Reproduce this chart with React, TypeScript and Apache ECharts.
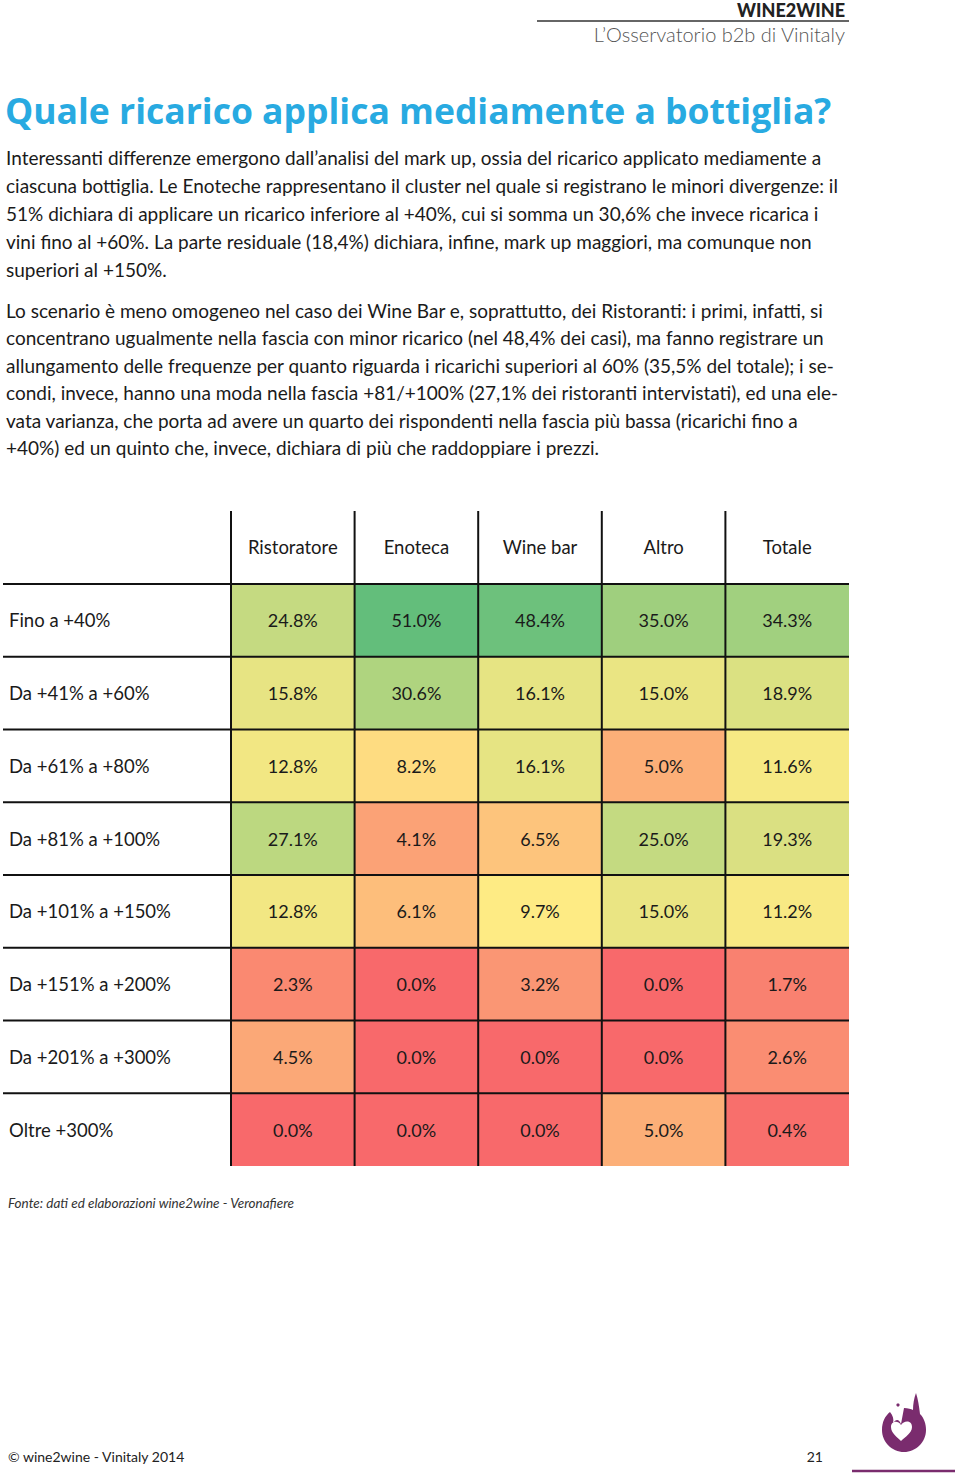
import React, { useEffect, useRef } from "react";
import * as echarts from "echarts";

const columns = ["Ristoratore", "Enoteca", "Wine bar", "Altro", "Totale"];
const rows = [
  "Fino a +40%",
  "Da +41% a +60%",
  "Da +61% a +80%",
  "Da +81% a +100%",
  "Da +101% a +150%",
  "Da +151% a +200%",
  "Da +201% a +300%",
  "Oltre +300%",
];
const ristoratore = [24.8, 15.8, 12.8, 27.1, 12.8, 2.3, 4.5, 0.0];
const enoteca = [51.0, 30.6, 8.2, 4.1, 6.1, 0.0, 0.0, 0.0];
const wineBar = [48.4, 16.1, 16.1, 6.5, 9.7, 3.2, 0.0, 0.0];
const altro = [35.0, 15.0, 5.0, 25.0, 15.0, 0.0, 0.0, 5.0];
const totale = [34.3, 18.9, 11.6, 19.3, 11.2, 1.7, 2.6, 0.4];
const seriesValues = [ristoratore, enoteca, wineBar, altro, totale];

const titleText = "Quale ricarico applica mediamente a bottiglia?";
const paragraph1 = [
  "Interessanti differenze emergono dall’analisi del mark up, ossia del ricarico applicato mediamente a",
  "ciascuna bottiglia. Le Enoteche rappresentano il cluster nel quale si registrano le minori divergenze: il",
  "51% dichiara di applicare un ricarico inferiore al +40%, cui si somma un 30,6% che invece ricarica i",
  "vini fino al +60%. La parte residuale (18,4%) dichiara, infine, mark up maggiori, ma comunque non",
  "superiori al +150%.",
];
const paragraph2 = [
  "Lo scenario è meno omogeneo nel caso dei Wine Bar e, soprattutto, dei Ristoranti: i primi, infatti, si",
  "concentrano ugualmente nella fascia con minor ricarico (nel 48,4% dei casi), ma fanno registrare un",
  "allungamento delle frequenze per quanto riguarda i ricarichi superiori al 60% (35,5% del totale); i se-",
  "condi, invece, hanno una moda nella fascia +81/+100% (27,1% dei ristoranti intervistati), ed una ele-",
  "vata varianza, che porta ad avere un quarto dei rispondenti nella fascia più bassa (ricarichi fino a",
  "+40%) ed un quinto che, invece, dichiara di più che raddoppiare i prezzi.",
];
const sourceText = "Fonte: dati ed elaborazioni wine2wine - Veronafiere";
const footerText = "© wine2wine - Vinitaly 2014";
const pageNumber = "21";

const FONT = "Lato";
const TITLE_FONT = "Open Sans";
const RED = [248, 105, 107];
const YELLOW = [255, 235, 132];
const GREEN = [99, 190, 123];
const MID = 9.3;

function mix(a: number[], b: number[], t: number) {
  const c = a.map((v, i) => Math.round(v + (b[i] - v) * t));
  return `rgb(${c[0]},${c[1]},${c[2]})`;
}

const allValues = seriesValues.flat();
const vMin = Math.min(...allValues);
const vMax = Math.max(...allValues);

function cellColor(v: number) {
  if (v <= MID) return mix(RED, YELLOW, (v - vMin) / (MID - vMin));
  return mix(YELLOW, GREEN, (v - MID) / (vMax - MID));
}

const LOGO_D =
  "M 23 16 C 27 16 30 17 32 18 C 32 12 33 6 35 1 C 37 7 38 14 39 22 C 43 26 45 32 45 38 C 45 50 35 60 23 60 C 11 60 1 50 1 38 C 1 30 4 24 9 20 C 12 24 13 27 12 31 C 15 27 18 27 20 32 Z " +
  "M 20 33 C 17 28 10 29 10 35 C 10 41 16 45 20 49 C 24 45 31 41 31 35 C 31 28 23 28 20 33 Z";

let registered = false;
function registerLogo() {
  if (registered) return;
  registered = true;
  echarts.graphic.registerShape("w2wlogo", echarts.graphic.extendPath(LOGO_D, {}) as any);
}

export default function App() {
  const ref = useRef<HTMLDivElement>(null);

  useEffect(() => {
    if (!ref.current) return;
    registerLogo();
    const chart = echarts.init(ref.current, undefined, { renderer: "svg" });

    const data: number[][] = [];
    seriesValues.forEach((vals, c) => {
      vals.forEach((v, r) => data.push([c, r, v]));
    });

    const graphic: any[] = [
      {
        type: "text",
        x: 845,
        y: 10,
        style: { text: "WINE2WINE", align: "right", verticalAlign: "middle", fontSize: 18, fontWeight: 900, fontFamily: FONT, fill: "#222" },
      },
      {
        type: "line",
        shape: { x1: 537, y1: 21, x2: 849, y2: 21 },
        style: { stroke: "#333", lineWidth: 1.5 },
      },
      {
        type: "text",
        x: 845,
        y: 34,
        style: { text: "L’Osservatorio b2b di Vinitaly", align: "right", verticalAlign: "middle", fontSize: 20, fontWeight: 300, fontFamily: FONT, fill: "#555" },
      },
      {
        type: "text",
        x: 5,
        y: 110,
        style: { text: titleText, align: "left", verticalAlign: "middle", fontSize: 35.5, fontWeight: "bold", fontFamily: TITLE_FONT, fill: "#28AAE1" },
      },
    ];
    paragraph1.forEach((line, i) => {
      graphic.push({
        type: "text",
        x: 6,
        y: 157 + i * 28.2,
        style: { text: line, align: "left", verticalAlign: "middle", fontSize: 19, fontFamily: FONT, fill: "#1a1a1a" },
      });
    });
    paragraph2.forEach((line, i) => {
      graphic.push({
        type: "text",
        x: 6,
        y: 310 + i * 27.5,
        style: { text: line, align: "left", verticalAlign: "middle", fontSize: 19, fontFamily: FONT, fill: "#1a1a1a" },
      });
    });
    graphic.push(
      {
        type: "text",
        x: 8,
        y: 1203,
        style: { text: sourceText, align: "left", verticalAlign: "middle", fontSize: 13.5, fontStyle: "italic", fontFamily: FONT, fill: "#333" },
      },
      {
        type: "text",
        x: 8,
        y: 1456,
        style: { text: footerText, align: "left", verticalAlign: "middle", fontSize: 14, fontFamily: FONT, fill: "#222" },
      },
      {
        type: "text",
        x: 823,
        y: 1456,
        style: { text: pageNumber, align: "right", verticalAlign: "middle", fontSize: 14, fontFamily: FONT, fill: "#222" },
      },
      {
        type: "w2wlogo",
        x: 881,
        y: 1392,
        scaleX: 1,
        scaleY: 1,
        style: { fill: "#7A2C6E" },
      },
      {
        type: "circle",
        shape: { cx: 898, cy: 1405, r: 1.6 },
        style: { fill: "#7A2C6E" },
      },
      {
        type: "line",
        shape: { x1: 852, y1: 1471, x2: 955, y2: 1471 },
        style: { stroke: "#7A2C6E", lineWidth: 2.5 },
      }
    );

    chart.setOption({
      animation: false,
      backgroundColor: "#ffffff",
      grid: { left: 231, right: 111, top: 584, bottom: 313 },
      xAxis: {
        type: "category",
        data: columns,
        position: "top",
        axisLine: { show: false },
        axisTick: { show: false },
        splitLine: { show: false },
        axisLabel: { margin: 37, verticalAlign: "middle", fontSize: 18.5, fontFamily: FONT, color: "#1a1a1a" },
      },
      yAxis: {
        type: "category",
        data: rows,
        inverse: true,
        axisLine: { show: false },
        axisTick: { show: false },
        splitLine: { show: false },
        axisLabel: { margin: 222, align: "left", fontSize: 18.5, fontFamily: FONT, color: "#1a1a1a" },
      },
      graphic,
      series: [
        {
          type: "custom",
          data,
          encode: { x: 0, y: 1 },
          renderItem: (params: any, api: any) => {
            const col = api.value(0) as number;
            const row = api.value(1) as number;
            const v = api.value(2) as number;
            const c = api.coord([col, row]);
            const s = api.size([1, 1]) as number[];
            const x0 = c[0] - s[0] / 2;
            const y0 = c[1] - s[1] / 2;
            const w = s[0];
            const h = s[1];
            return {
              type: "group",
              children: [
                { type: "rect", shape: { x: x0, y: y0, width: w, height: h }, style: { fill: cellColor(v) }, z2: 0 },
                {
                  type: "text",
                  x: c[0],
                  y: c[1],
                  style: { text: v.toFixed(1) + "%", align: "center", verticalAlign: "middle", fontSize: 18, fontFamily: FONT, fill: "#1a1a1a" },
                  z2: 5,
                },
                {
                  type: "line",
                  shape: { x1: col === 0 ? 3 : x0, y1: y0, x2: x0 + w, y2: y0 },
                  style: { stroke: "#111", lineWidth: 2 },
                  z2: 10,
                },
                {
                  type: "line",
                  shape: { x1: x0, y1: row === 0 ? 511 : y0, x2: x0, y2: y0 + h },
                  style: { stroke: "#111", lineWidth: 2 },
                  z2: 10,
                },
              ],
            };
          },
        },
      ],
    });

    return () => chart.dispose();
  }, []);

  return <div ref={ref} style={{ position: "absolute", left: 0, top: 0, width: 960, height: 1479 }} />;
}
